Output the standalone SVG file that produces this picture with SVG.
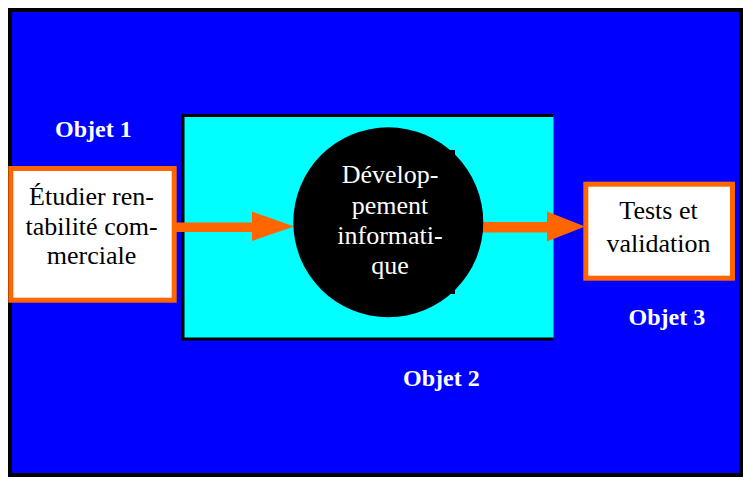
<svg xmlns="http://www.w3.org/2000/svg" width="743" height="479" viewBox="0 0 743 479">
<style>
.box{fill:#fff;stroke:#ff6600;stroke-width:5}
.t{font-family:"Liberation Serif","Times New Roman",serif;font-size:26px;text-anchor:middle}
.lbl{font-family:"Liberation Serif","Times New Roman",serif;font-size:24px;font-weight:bold;fill:#fff}
.arrow{fill:#ff6600}
</style>
<rect width="743" height="479" fill="#fff"/>
<g id="frame">
<rect x="10" y="10" width="731.5" height="465" fill="#0000ff" stroke="#000" stroke-width="4"/>
</g>
<g id="objet2-zone">
<rect x="183" y="115.5" width="370.5" height="223.5" fill="#00ffff"/>
<path d="M553.5 115.5 H183 V339 H553.5" fill="none" stroke="#000" stroke-width="3"/>
</g>
<g id="label-objet1"><text class="lbl" x="55" y="136.5">Objet 1</text></g>
<g id="label-objet2"><text class="lbl" x="403" y="386">Objet 2</text></g>
<g id="label-objet3"><text class="lbl" x="628.5" y="325">Objet 3</text></g>
<g id="connectors">
<path class="arrow" d="M176 222.5 H252 V211.5 L294 226.5 L252 241 V232 H176 Z"/>
<path class="arrow" d="M480 222 H547 V211.5 L585 226.5 L547 241.5 V232.5 H480 Z"/>
</g>
<g id="node-etudier">
<rect class="box" x="10.8" y="168.5" width="163.4" height="131.7"/>
<text class="t" x="91.5" y="205">Étudier ren-</text>
<text class="t" x="91.5" y="235">tabilité com-</text>
<text class="t" x="91.5" y="264">merciale</text>
</g>
<g id="node-developpement">
<circle cx="388.3" cy="222.3" r="95" fill="#000"/>
<rect x="450" y="150" width="5" height="5" fill="#000"/>
<rect x="450" y="288" width="5" height="6" fill="#000"/>
<text class="t" x="390" y="183" fill="#fff">Dévelop-</text>
<text class="t" x="390" y="214" fill="#fff">pement</text>
<text class="t" x="390" y="244" fill="#fff">informati-</text>
<text class="t" x="390" y="274" fill="#fff">que</text>
</g>
<g id="node-tests">
<rect class="box" x="585.8" y="184.2" width="146.7" height="94"/>
<text class="t" x="658.5" y="218.5">Tests et</text>
<text class="t" x="658.5" y="251.5">validation</text>
</g>
</svg>
